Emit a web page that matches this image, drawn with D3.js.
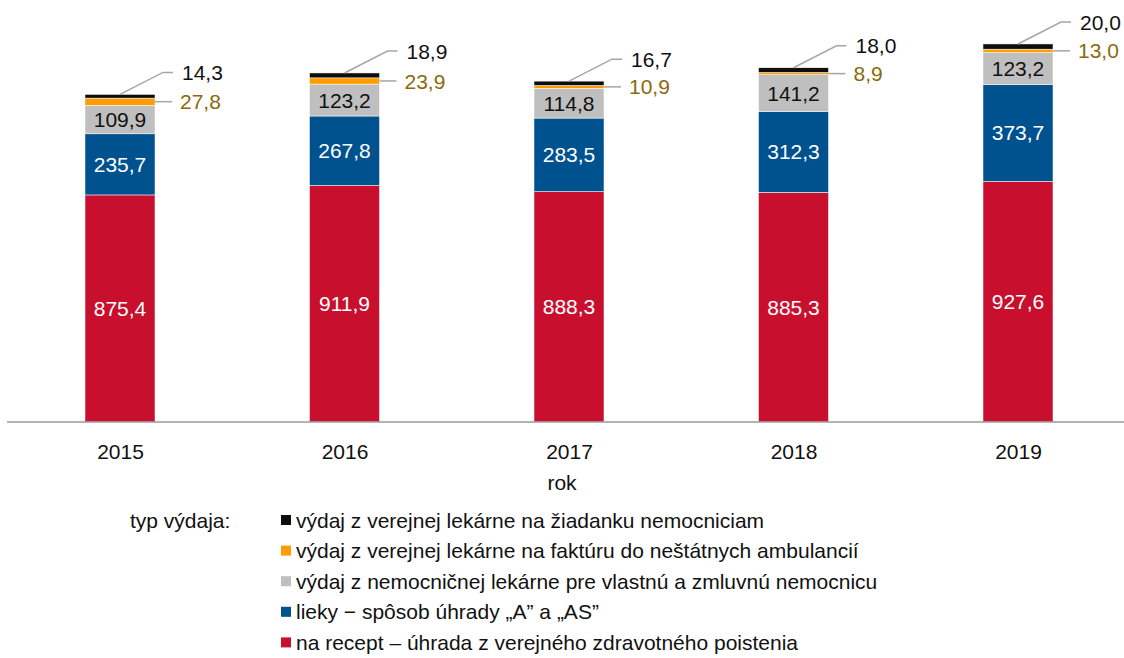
<!DOCTYPE html>
<html>
<head>
<meta charset="utf-8">
<script src="https://cdn.jsdelivr.net/npm/d3@7"></script>
<style>
  body { margin: 0; background: #fff; }
  svg { font-family: "Liberation Sans", Arial, sans-serif; }
</style>
</head>
<body>
<div class="wrapper"></div>
<script>
const years = ["2015", "2016", "2017", "2018", "2019"];

// series, bottom to top of each bar
const naRecept = [875.4, 911.9, 888.3, 885.3, 927.6];
const liekyA = [235.7, 267.8, 283.5, 312.3, 373.7];
const nemocnicna = [109.9, 123.2, 114.8, 141.2, 123.2];
const faktura = [27.8, 23.9, 10.9, 8.9, 13.0];
const ziadanka = [14.3, 18.9, 16.7, 18.0, 20.0];

const seriesNames = [
    "na recept – úhrada z verejného zdravotného poistenia",
    "lieky − spôsob úhrady „A” a „AS”",
    "výdaj z nemocničnej lekárne pre vlastnú a zmluvnú nemocnicu",
    "výdaj z verejnej lekárne na faktúru do neštátnych ambulancií",
    "výdaj z verejnej lekárne na žiadanku nemocniciam"
];
const seriesColors = ["#c8102e", "#00528f", "#bfbfbf", "#ff9c00", "#0d0d0d"];
const labelColors = ["#ffffff", "#ffffff", "#111111", "#8a6a0c", "#111111"];

const allSeries = [naRecept, liekyA, nemocnicna, faktura, ziadanka];

const width = 1124, height = 658;
const barWidth = 70;
const fontSize = "21px";

const locale = d3.formatLocale({decimal: ",", thousands: " ", grouping: [3], currency: ["", ""]});
const fmt = locale.format(".1f");

const svg = d3.select(".wrapper").append("svg")
    .attr("width", width)
    .attr("height", height);

const x = d3.scalePoint().domain(years).range([120, 1018]);
const y = d3.scaleLinear().domain([0, 1600]).range([422, 7]);

// build table for the stack
const table = years.map((yr, i) => {
    const row = {year: yr};
    allSeries.forEach((s, k) => row["s" + k] = s[i]);
    return row;
});
const keys = allSeries.map((s, k) => "s" + k);
const stacked = d3.stack().keys(keys)(table);

const layers = svg.selectAll("g.layer")
    .data(stacked)
    .enter().append("g")
    .attr("class", "layer")
    .attr("fill", (d, k) => seriesColors[k]);

layers.selectAll("rect")
    .data(d => d)
    .enter().append("rect")
    .attr("x", d => x(d.data.year) - barWidth / 2)
    .attr("y", d => y(d[1]))
    .attr("width", barWidth)
    .attr("height", d => y(d[0]) - y(d[1]))
    .attr("stroke", "#ffffff")
    .attr("stroke-width", 0.5);

// axis line
svg.append("line")
    .attr("x1", 7).attr("x2", width)
    .attr("y1", y(0)).attr("y2", y(0))
    .attr("stroke", "#9a9a9a")
    .attr("stroke-width", 1.5);

// year labels
const xAxis = d3.axisBottom(x).tickSize(0).tickPadding(22);
const axisG = svg.append("g")
    .attr("transform", "translate(0," + y(0) + ")")
    .call(xAxis);
axisG.select(".domain").remove();
axisG.selectAll("text")
    .style("font-size", fontSize)
    .style("font-family", "\"Liberation Sans\", Arial, sans-serif")
    .attr("fill", "#111");

svg.append("text")
    .attr("x", 562).attr("y", 482)
    .attr("dy", "0.36em")
    .attr("text-anchor", "middle")
    .style("font-size", fontSize)
    .attr("fill", "#111")
    .text("rok");

// inside labels for the three big segments
[0, 1, 2].forEach(k => {
    svg.append("g").selectAll("text")
        .data(stacked[k])
        .enter().append("text")
        .attr("x", d => x(d.data.year))
        .attr("y", d => (y(d[0]) + y(d[1])) / 2)
        .attr("dy", "0.36em")
        .attr("text-anchor", "middle")
        .style("font-size", fontSize)
        .attr("fill", labelColors[k])
        .text(d => fmt(d[1] - d[0]));
});

// orange segment: horizontal leader to the right
const lineColor = "#a6a6a6";
stacked[3].forEach(d => {
    const cy = (y(d[0]) + y(d[1])) / 2;
    const rx = x(d.data.year) + barWidth / 2;
    svg.append("line")
        .attr("x1", rx).attr("x2", rx + 17)
        .attr("y1", cy).attr("y2", cy)
        .attr("stroke", lineColor).attr("stroke-width", 1.5);
    svg.append("text")
        .attr("x", rx + 25).attr("y", cy)
        .attr("dy", "0.36em")
        .style("font-size", fontSize)
        .attr("fill", labelColors[3])
        .text(fmt(d[1] - d[0]));
});

// black segment: diagonal leader up and right
stacked[4].forEach(d => {
    const top = y(d[1]);
    const cx = x(d.data.year);
    const ly = top - 22;
    svg.append("polyline")
        .attr("points", [[cx, top], [cx + 43, ly], [cx + 53, ly]].map(p => p.join(",")).join(" "))
        .attr("fill", "none")
        .attr("stroke", lineColor).attr("stroke-width", 1.5);
    svg.append("text")
        .attr("x", cx + 62).attr("y", ly)
        .attr("dy", "0.36em")
        .style("font-size", fontSize)
        .attr("fill", labelColors[4])
        .text(fmt(d[1] - d[0]));
});

// legend
svg.append("text")
    .attr("x", 130).attr("y", 520)
    .attr("dy", "0.36em")
    .style("font-size", fontSize)
    .attr("fill", "#111")
    .text("typ výdaja:");

const legendOrder = [4, 3, 2, 1, 0];
const legend = svg.selectAll("g.legend")
    .data(legendOrder)
    .enter().append("g")
    .attr("class", "legend")
    .attr("transform", (k, i) => "translate(281," + (520 + i * 30.6) + ")");

legend.append("rect")
    .attr("x", 0).attr("y", -5)
    .attr("width", 10).attr("height", 10)
    .attr("fill", k => seriesColors[k]);

legend.append("text")
    .attr("x", 15).attr("y", 0)
    .attr("dy", "0.36em")
    .style("font-size", fontSize)
    .attr("fill", "#111")
    .text(k => seriesNames[k]);
</script>
</body>
</html>
